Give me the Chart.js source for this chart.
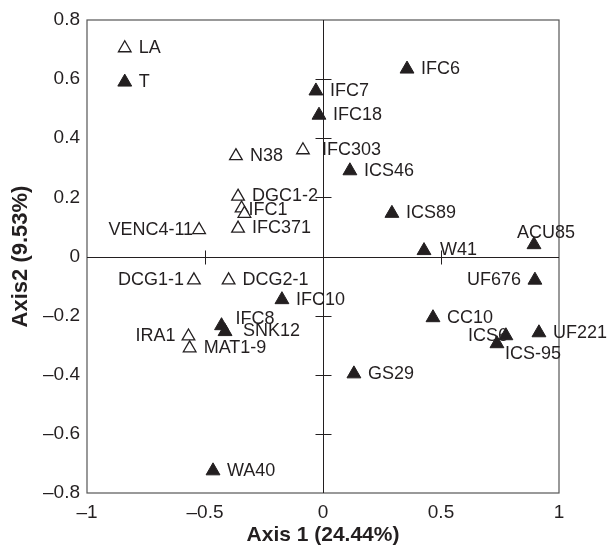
<!DOCTYPE html>
<html>
<head>
<meta charset="utf-8">
<script src="https://cdn.jsdelivr.net/npm/chart.js@4.4.1/dist/chart.umd.min.js"></script>
<style>
  html, body { margin: 0; padding: 0; background: #fff; }
  #wrap { width: 611px; height: 549px; }
</style>
</head>
<body>
<div id="wrap"><canvas id="pca"></canvas></div>
<script>
// filled triangles
const filledNames = ['IFC6', 'IFC7', 'IFC18', 'T', 'ICS46', 'ICS89', 'W41', 'ACU85', 'UF676',
    'IFC10', 'IFC8', 'SNK12', 'CC10', 'ICS6', 'ICS-95', 'UF221', 'GS29', 'WA40'];
const filledX = [0.356, -0.03, -0.017, -0.84, 0.114, 0.292, 0.428, 0.894, 0.898,
    -0.174, -0.43, -0.415, 0.466, 0.775, 0.737, 0.915, 0.131, -0.466];
const filledY = [0.634, 0.56, 0.478, 0.59, 0.29, 0.146, 0.02, 0.04, -0.08,
    -0.146, -0.234, -0.254, -0.207, -0.268, -0.295, -0.258, -0.397, -0.725];

// open triangles
const openNames = ['LA', 'N38', 'IFC303', 'DGC1-2', 'IFC1', '', 'IFC371', 'VENC4-11',
    'DCG1-1', 'DCG2-1', 'IRA1', 'MAT1-9'];
const openX = [-0.84, -0.369, -0.085, -0.36, -0.345, -0.333, -0.36, -0.525,
    -0.547, -0.40, -0.57, -0.565];
const openY = [0.705, 0.34, 0.36, 0.203, 0.163, 0.145, 0.095, 0.09,
    -0.08, -0.08, -0.27, -0.31];

const xTicks = [-1, -0.5, 0, 0.5, 1];
const yTicks = [-0.8, -0.6, -0.4, -0.2, 0, 0.2, 0.4, 0.6, 0.8];

// where each label sits relative to its point: [dx, dy, align]
const filledLabelPos = {
    'UF676': [-14, 0, 'right'],
    'ACU85': [12, -12, 'center'],
    'ICS6': [2, 0, 'right'],
    'ICS-95': [8, 10, 'left'],
    'IFC8': [14, -7, 'left'],
    'SNK12': [18, -1, 'left'],
    'W41': [16, -1, 'left']
};
const openLabelPos = {
    'VENC4-11': [-6, 0, 'right'],
    'DCG1-1': [-10, 0, 'right'],
    'IRA1': [-13, 0, 'right'],
    'IFC1': [7, 2, 'left'],
    'IFC303': [19, 0, 'left']
};

function pts(xs, ys) {
    return xs.map((x, i) => ({x: x, y: ys[i]}));
}

function fmt(v) {
    let r = Math.round(v * 10) / 10;
    if (r === 0) return '0';
    return (r < 0 ? '\u2013' : '') + String(Math.abs(r));
}

const ink = '#231f20';
const face = '"Liberation Sans", Arial, sans-serif';

const decor = {
    id: 'decor',
    beforeDatasetsDraw(chart) {
        let ctx = chart.ctx;
        let a = chart.chartArea;
        let xs = chart.scales.x, ys = chart.scales.y;
        ctx.save();
        ctx.strokeStyle = '#555';
        ctx.lineWidth = 1.2;
        ctx.strokeRect(a.left, a.top, a.right - a.left, a.bottom - a.top);
        // centre axes
        ctx.strokeStyle = ink;
        ctx.lineWidth = 1;
        let x0 = Math.round(xs.getPixelForValue(0)) + 0.5;
        let y0 = Math.round(ys.getPixelForValue(0)) + 0.5;
        ctx.beginPath();
        ctx.moveTo(x0, a.top); ctx.lineTo(x0, a.bottom);
        ctx.moveTo(a.left, y0); ctx.lineTo(a.right, y0);
        yTicks.forEach(v => {
            if (v === 0 || Math.abs(v) === 0.8) return;
            let py = Math.round(ys.getPixelForValue(v)) + 0.5;
            ctx.moveTo(x0 - 8, py); ctx.lineTo(x0 + 8, py);
        });
        xTicks.forEach(v => {
            if (v === 0 || Math.abs(v) === 1) return;
            let px = Math.round(xs.getPixelForValue(v)) + 0.5;
            ctx.moveTo(px, y0 - 7); ctx.lineTo(px, y0 + 7);
        });
        ctx.stroke();
        ctx.restore();
    },
    afterDatasetsDraw(chart) {
        let ctx = chart.ctx;
        ctx.save();
        ctx.font = '18px ' + face;
        ctx.fillStyle = ink;
        ctx.textBaseline = 'middle';
        chart.data.datasets.forEach((ds, di) => {
            let meta = chart.getDatasetMeta(di);
            let names = di === 0 ? filledNames : openNames;
            let place = di === 0 ? filledLabelPos : openLabelPos;
            meta.data.forEach((el, i) => {
                let name = names[i];
                if (!name) return;
                let p = place[name] || [14, 0, 'left'];
                ctx.textAlign = p[2];
                ctx.fillText(name, el.x + p[0], el.y + p[1]);
            });
        });
        ctx.restore();
    }
};

new Chart(document.getElementById('pca').getContext('2d'), {
    type: 'scatter',
    data: {
        datasets: [{
            label: 'filled',
            data: pts(filledX, filledY),
            pointStyle: 'triangle',
            pointRadius: 8,
            backgroundColor: ink,
            borderColor: ink,
            borderWidth: 1
        }, {
            label: 'open',
            data: pts(openX, openY),
            pointStyle: 'triangle',
            pointRadius: 7.3,
            backgroundColor: '#fff',
            borderColor: ink,
            borderWidth: 1.3
        }]
    },
    options: {
        responsive: true,
        maintainAspectRatio: false,
        animation: false,
        events: [],
        layout: { padding: { top: 20, right: 52, left: 0, bottom: 0 } },
        plugins: { legend: { display: false }, tooltip: { enabled: false } },
        scales: {
            x: {
                type: 'linear',
                min: -1, max: 1,
                afterBuildTicks: s => { s.ticks = xTicks.map(v => ({value: v})); },
                afterFit: s => { s.height = 56; },
                grid: { display: false, drawTicks: false },
                border: { display: false },
                ticks: {
                    callback: v => fmt(v),
                    color: ink,
                    padding: 8,
                    maxRotation: 0,
                    font: { family: face, size: 19 }
                },
                title: {
                    display: true,
                    text: 'Axis 1 (24.44%)',
                    color: ink,
                    padding: { top: 0, bottom: 1 },
                    font: { family: face, size: 21, weight: 'bold' }
                }
            },
            y: {
                type: 'linear',
                min: -0.8, max: 0.8,
                afterBuildTicks: s => { s.ticks = yTicks.map(v => ({value: v})); },
                afterFit: s => { s.width = 87; },
                grid: { display: false, drawTicks: false },
                border: { display: false },
                ticks: {
                    callback: v => fmt(v),
                    color: ink,
                    padding: 7,
                    font: { family: face, size: 19 }
                },
                title: {
                    display: true,
                    text: 'Axis2 (9.53%)',
                    color: ink,
                    padding: { top: 8, bottom: 0 },
                    font: { family: face, size: 22, weight: 'bold' }
                }
            }
        }
    },
    plugins: [decor]
});
</script>
</body>
</html>
